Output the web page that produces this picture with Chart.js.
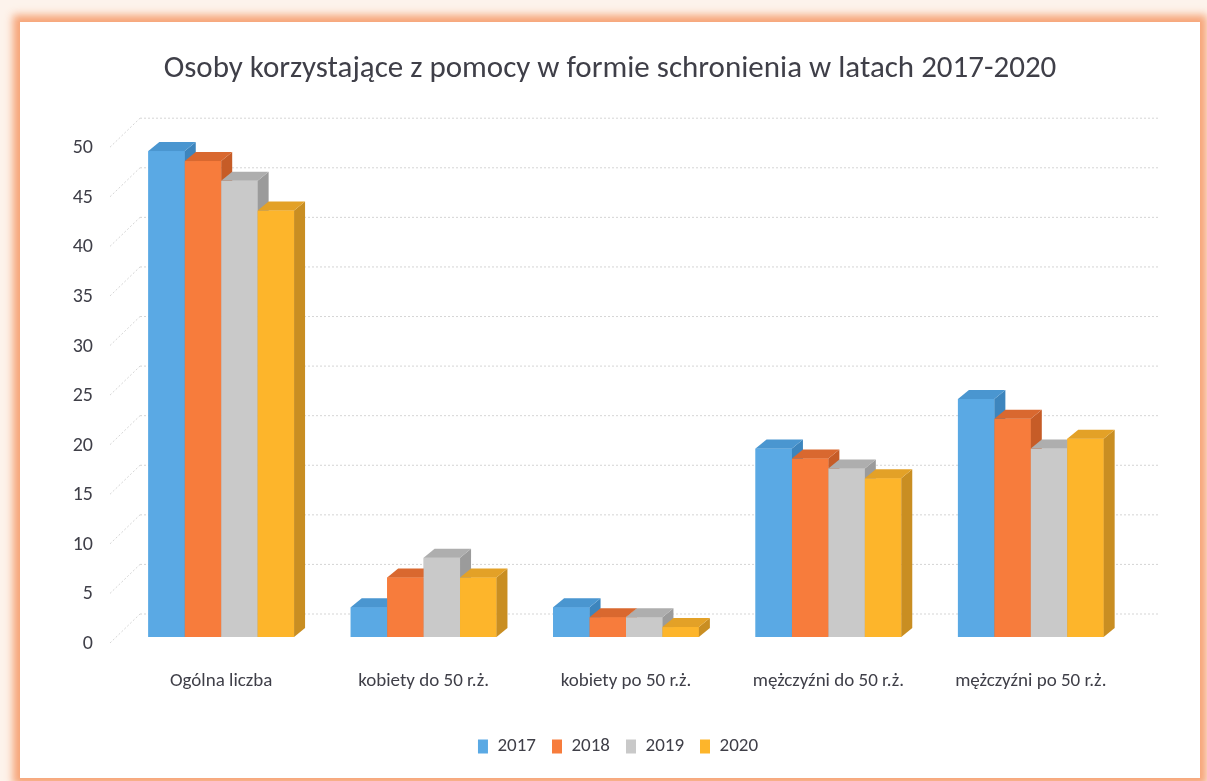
<!DOCTYPE html>
<html lang="pl">
<head>
<meta charset="utf-8">
<title>Osoby korzystające z pomocy w formie schronienia</title>
<script src="https://cdn.jsdelivr.net/npm/chart.js@4.4.1/dist/chart.umd.min.js"></script>
<style>
  html, body { margin: 0; padding: 0; }
  body { width: 1207px; height: 781px; background: #fdf3ec; position: relative; overflow: hidden; }
  .panel {
    position: absolute; left: 20px; top: 22px; width: 1180px; height: 756px;
    background: #fff;
    box-shadow: 0 0 8px 7px rgba(244, 150, 100, 0.85);
  }
  canvas { display: block; }
</style>
</head>
<body>
<div class="panel">
  <canvas id="shelterChart" width="1180" height="756"></canvas>
</div>
<script>
const categories = ["Ogólna liczba", "kobiety do 50 r.ż.", "kobiety po 50 r.ż.", "mężczyźni do 50 r.ż.", "mężczyźni po 50 r.ż."];
const years = ["2017", "2018", "2019", "2020"];
const data2017 = [49, 3, 3, 19, 24];
const data2018 = [48, 6, 2, 18, 22];
const data2019 = [46, 8, 2, 17, 19];
const data2020 = [43, 6, 1, 16, 20];
const yTicks = [0, 5, 10, 15, 20, 25, 30, 35, 40, 45, 50];

const frontColors = ["#5aa9e4", "#f77c3c", "#c9c9c9", "#fdb52b"];
const sideColors  = ["#3d85bd", "#c65c27", "#9b9b9b", "#c98e22"];
const topColors   = ["#4a96d0", "#d9682f", "#aeaeae", "#e3a127"];

const FONT = '"Carlito", "Lato", sans-serif';
const TEXT = '#3f3f48';
const DX = 11, DY = 9;      // bar depth
const WALL = 23;            // back wall offset

// back wall grid + side wall diagonals
const wallGrid = {
    id: 'wallGrid',
    beforeDatasetsDraw(chart) {
        const { ctx, chartArea: a, scales: { y } } = chart;
        ctx.save();
        ctx.strokeStyle = 'rgba(150,150,150,0.4)';
        ctx.lineWidth = 1;
        ctx.setLineDash([2, 2]);
        yTicks.forEach(v => {
            const yf = y.getPixelForValue(v);
            const yb = yf - WALL;
            ctx.beginPath();
            ctx.moveTo(a.left + 20, yb);
            ctx.lineTo(a.right + 26, yb);
            ctx.stroke();
            ctx.beginPath();
            ctx.moveTo(a.left - 10, yf + 6);
            ctx.lineTo(a.left + 20, yb);
            ctx.stroke();
        });
        ctx.restore();
    }
};

// pseudo 3D faces
const bars3d = {
    id: 'bars3d',
    afterDatasetsDraw(chart) {
        const ctx = chart.ctx;
        const poly = (pts, color) => {
            ctx.beginPath();
            ctx.moveTo(pts[0][0], pts[0][1]);
            pts.slice(1).forEach(p => ctx.lineTo(p[0], p[1]));
            ctx.closePath();
            ctx.fillStyle = color;
            ctx.fill();
        };
        ctx.save();
        categories.forEach((c, i) => {
            chart.data.datasets.forEach((ds, d) => {
                const meta = chart.getDatasetMeta(d);
                if (meta.hidden) return;
                const bar = meta.data[i];
                const l = bar.x - bar.width / 2, r = bar.x + bar.width / 2;
                const t = bar.y, b = bar.base;
                ctx.fillStyle = frontColors[d];
                ctx.fillRect(l, t, r - l, b - t);
                poly([[r, t], [r + DX, t - DY], [r + DX, b - DY], [r, b]], sideColors[d]);
                poly([[l, t], [l + DX, t - DY], [r + DX, t - DY], [r, t]], topColors[d]);
            });
        });
        ctx.restore();
    }
};

// nudge title and legend to the right, like in the original
const shiftBlocks = {
    id: 'shiftBlocks',
    afterLayout(chart) {
        if (chart.titleBlock) { chart.titleBlock.left += 19; chart.titleBlock.right += 19; }
        if (chart.legend) { chart.legend.left += 27; chart.legend.right += 27; }
    }
};

const ctx = document.getElementById('shelterChart').getContext('2d');

const shelterChart = new Chart(ctx, {
    type: 'bar',
    data: {
        labels: categories,
        datasets: [
            { label: years[0], data: data2017, backgroundColor: frontColors[0] },
            { label: years[1], data: data2018, backgroundColor: frontColors[1] },
            { label: years[2], data: data2019, backgroundColor: frontColors[2] },
            { label: years[3], data: data2020, backgroundColor: frontColors[3] }
        ]
    },
    options: {
        responsive: false,
        animation: false,
        layout: { padding: { left: 30, right: 68, top: 0, bottom: 12 } },
        datasets: { bar: { categoryPercentage: 0.72, barPercentage: 1.0 } },
        plugins: {
            title: {
                display: true,
                text: 'Osoby korzystające z pomocy w formie schronienia w latach 2017-2020',
                color: TEXT,
                font: { family: FONT, size: 31, weight: 'normal' },
                padding: { top: 29, bottom: 53 }
            },
            legend: {
                position: 'bottom',
                labels: {
                    color: TEXT,
                    font: { family: FONT, size: 19 },
                    boxWidth: 10,
                    boxHeight: 14,
                    padding: 16
                }
            },
            tooltip: { enabled: false }
        },
        scales: {
            x: {
                grid: { display: false, drawTicks: false },
                border: { display: false },
                ticks: { color: TEXT, font: { family: FONT, size: 19 }, padding: 33 },
                afterFit: s => { s.height = 84; }
            },
            y: {
                min: 0,
                max: 50,
                grid: { display: false, drawTicks: false },
                border: { display: false },
                ticks: { stepSize: 5, color: TEXT, font: { family: FONT, size: 20 }, padding: 27, labelOffset: 7 },
                afterFit: s => { s.width = 70; }
            }
        }
    },
    plugins: [wallGrid, bars3d, shiftBlocks]
});
</script>
</body>
</html>
